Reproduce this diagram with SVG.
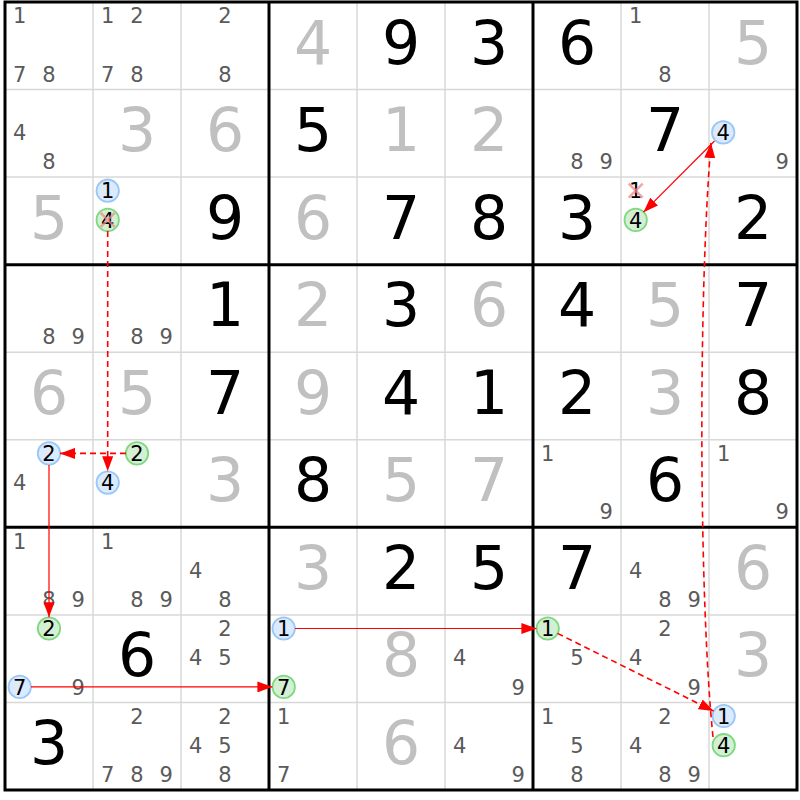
<svg xmlns="http://www.w3.org/2000/svg" width="800" height="800" viewBox="0 0 800 800">
<style>
text{font-family:"DejaVu Sans","Liberation Sans",sans-serif;text-anchor:middle}
.g{font-size:60px;fill:#000}
.s{font-size:60px;fill:#c0c0c0}
.c{font-size:21px;fill:#5a5a5a}
.k{font-size:21px;fill:#000}
.bc{fill:#dbeafc;stroke:#99c8f8;stroke-width:1.8}
.gc{fill:#d4f0d4;stroke:#80d880;stroke-width:1.8}
.x{stroke:#f08a8a;stroke-width:2.5;opacity:0.75}
.thin{stroke:#d8d8d8;stroke-width:1.5}
.thick{stroke:#000;stroke-width:3}
.ln{stroke:#ff0000;stroke-width:1.2;fill:none}
.dl{stroke:#ff0000;stroke-width:1.6;fill:none;stroke-dasharray:6,4}
</style>
<defs>
<marker id="ah" markerUnits="userSpaceOnUse" markerWidth="15" markerHeight="11" refX="15" refY="5.5" orient="auto">
<path d="M0,0 L15,5.5 L0,11 z" fill="#ff0000"/>
</marker>
</defs>
<rect width="800" height="800" fill="#fff"/>
<g id="grid">
<g class="thin">
<line x1="93" y1="2" x2="93" y2="790"/><line x1="181" y1="2" x2="181" y2="790"/>
<line x1="357" y1="2" x2="357" y2="790"/><line x1="445" y1="2" x2="445" y2="790"/>
<line x1="621" y1="2" x2="621" y2="790"/><line x1="709" y1="2" x2="709" y2="790"/>
<line x1="5" y1="89.6" x2="797" y2="89.6"/><line x1="5" y1="177.1" x2="797" y2="177.1"/>
<line x1="5" y1="352.2" x2="797" y2="352.2"/><line x1="5" y1="439.8" x2="797" y2="439.8"/>
<line x1="5" y1="614.9" x2="797" y2="614.9"/><line x1="5" y1="702.4" x2="797" y2="702.4"/>
</g>
<g class="thick">
<line x1="269" y1="2" x2="269" y2="790"/><line x1="533" y1="2" x2="533" y2="790"/>
<line x1="5" y1="264.7" x2="797" y2="264.7"/><line x1="5" y1="527.3" x2="797" y2="527.3"/>
<rect x="5" y="2" width="792" height="788" fill="none"/>
</g>
</g>
<g id="cells">
<g id="r1c1"><text class="c" x="19.7" y="23.2">1</text><text class="c" x="19.7" y="81.6">7</text><text class="c" x="49" y="81.6">8</text></g>
<g id="r1c2"><text class="c" x="107.7" y="23.2">1</text><text class="c" x="137" y="23.2">2</text><text class="c" x="107.7" y="81.6">7</text><text class="c" x="137" y="81.6">8</text></g>
<g id="r1c3"><text class="c" x="225" y="23.2">2</text><text class="c" x="225" y="81.6">8</text></g>
<g id="r1c4"><text class="s" x="313" y="63.5">4</text></g>
<g id="r1c5"><text class="g" x="401" y="63.5">9</text></g>
<g id="r1c6"><text class="g" x="489" y="63.5">3</text></g>
<g id="r1c7"><text class="g" x="577" y="63.5">6</text></g>
<g id="r1c8"><text class="c" x="635.7" y="23.2">1</text><text class="c" x="665" y="81.6">8</text></g>
<g id="r1c9"><text class="s" x="753" y="63.5">5</text></g>

<g id="r2c1"><text class="c" x="19.7" y="140">4</text><text class="c" x="49" y="169.2">8</text></g>
<g id="r2c2"><text class="s" x="137" y="151.1">3</text></g>
<g id="r2c3"><text class="s" x="225" y="151.1">6</text></g>
<g id="r2c4"><text class="g" x="313" y="151.1">5</text></g>
<g id="r2c5"><text class="s" x="401" y="151.1">1</text></g>
<g id="r2c6"><text class="s" x="489" y="151.1">2</text></g>
<g id="r2c7"><text class="c" x="577" y="169.2">8</text><text class="c" x="606.3" y="169.2">9</text></g>
<g id="r2c8"><text class="g" x="665" y="151.1">7</text></g>
<g id="r2c9"><circle class="bc" cx="723.2" cy="132.4" r="11.2"/><text class="k" x="723.2" y="140">4</text><text class="c" x="782.3" y="169.2">9</text></g>

<g id="r3c1"><text class="s" x="49" y="238.6">5</text></g>
<g id="r3c2"><circle class="bc" cx="107.7" cy="190.7" r="11.2"/><text class="k" x="107.7" y="198.3">1</text><circle class="gc" cx="107.7" cy="219.9" r="11.2"/><text class="k" x="107.7" y="227.5">4</text><path class="x" d="M100.7,212.9 L114.7,226.9 M114.7,212.9 L100.7,226.9"/></g>
<g id="r3c3"><text class="g" x="225" y="238.6">9</text></g>
<g id="r3c4"><text class="s" x="313" y="238.6">6</text></g>
<g id="r3c5"><text class="g" x="401" y="238.6">7</text></g>
<g id="r3c6"><text class="g" x="489" y="238.6">8</text></g>
<g id="r3c7"><text class="g" x="577" y="238.6">3</text></g>
<g id="r3c8"><text class="k" x="635.7" y="198.3">1</text><path class="x" d="M628.7,183.7 L642.7,197.7 M642.7,183.7 L628.7,197.7"/><circle class="gc" cx="635.7" cy="219.9" r="11.2"/><text class="k" x="635.7" y="227.5">4</text></g>
<g id="r3c9"><text class="g" x="753" y="238.6">2</text></g>

<g id="r4c1"><text class="c" x="49" y="344.3">8</text><text class="c" x="78.3" y="344.3">9</text></g>
<g id="r4c2"><text class="c" x="137" y="344.3">8</text><text class="c" x="166.3" y="344.3">9</text></g>
<g id="r4c3"><text class="g" x="225" y="326.2">1</text></g>
<g id="r4c4"><text class="s" x="313" y="326.2">2</text></g>
<g id="r4c5"><text class="g" x="401" y="326.2">3</text></g>
<g id="r4c6"><text class="s" x="489" y="326.2">6</text></g>
<g id="r4c7"><text class="g" x="577" y="326.2">4</text></g>
<g id="r4c8"><text class="s" x="665" y="326.2">5</text></g>
<g id="r4c9"><text class="g" x="753" y="326.2">7</text></g>

<g id="r5c1"><text class="s" x="49" y="413.7">6</text></g>
<g id="r5c2"><text class="s" x="137" y="413.7">5</text></g>
<g id="r5c3"><text class="g" x="225" y="413.7">7</text></g>
<g id="r5c4"><text class="s" x="313" y="413.7">9</text></g>
<g id="r5c5"><text class="g" x="401" y="413.7">4</text></g>
<g id="r5c6"><text class="g" x="489" y="413.7">1</text></g>
<g id="r5c7"><text class="g" x="577" y="413.7">2</text></g>
<g id="r5c8"><text class="s" x="665" y="413.7">3</text></g>
<g id="r5c9"><text class="g" x="753" y="413.7">8</text></g>

<g id="r6c1"><circle class="bc" cx="49" cy="453.4" r="11.2"/><text class="k" x="49" y="461">2</text><text class="c" x="19.7" y="490.2">4</text></g>
<g id="r6c2"><circle class="gc" cx="137" cy="453.4" r="11.2"/><text class="k" x="137" y="461">2</text><circle class="bc" cx="107.7" cy="482.6" r="11.2"/><text class="k" x="107.7" y="490.2">4</text></g>
<g id="r6c3"><text class="s" x="225" y="501.3">3</text></g>
<g id="r6c4"><text class="g" x="313" y="501.3">8</text></g>
<g id="r6c5"><text class="s" x="401" y="501.3">5</text></g>
<g id="r6c6"><text class="s" x="489" y="501.3">7</text></g>
<g id="r6c7"><text class="c" x="547.7" y="461">1</text><text class="c" x="606.3" y="519.4">9</text></g>
<g id="r6c8"><text class="g" x="665" y="501.3">6</text></g>
<g id="r6c9"><text class="c" x="723.7" y="461">1</text><text class="c" x="782.3" y="519.4">9</text></g>

<g id="r7c1"><text class="c" x="19.7" y="548.5">1</text><text class="c" x="49" y="606.9">8</text><text class="c" x="78.3" y="606.9">9</text></g>
<g id="r7c2"><text class="c" x="107.7" y="548.5">1</text><text class="c" x="137" y="606.9">8</text><text class="c" x="166.3" y="606.9">9</text></g>
<g id="r7c3"><text class="c" x="195.7" y="577.7">4</text><text class="c" x="225" y="606.9">8</text></g>
<g id="r7c4"><text class="s" x="313" y="588.8">3</text></g>
<g id="r7c5"><text class="g" x="401" y="588.8">2</text></g>
<g id="r7c6"><text class="g" x="489" y="588.8">5</text></g>
<g id="r7c7"><text class="g" x="577" y="588.8">7</text></g>
<g id="r7c8"><text class="c" x="635.7" y="577.7">4</text><text class="c" x="665" y="606.9">8</text><text class="c" x="694.3" y="606.9">9</text></g>
<g id="r7c9"><text class="s" x="753" y="588.8">6</text></g>

<g id="r8c1"><circle class="gc" cx="49" cy="628.5" r="11.2"/><text class="k" x="49" y="636.1">2</text><circle class="bc" cx="19.7" cy="686.9" r="11.2"/><text class="k" x="19.7" y="694.5">7</text><text class="c" x="78.3" y="694.5">9</text></g>
<g id="r8c2"><text class="g" x="137" y="676.4">6</text></g>
<g id="r8c3"><text class="c" x="225" y="636.1">2</text><text class="c" x="195.7" y="665.3">4</text><text class="c" x="225" y="665.3">5</text></g>
<g id="r8c4"><circle class="bc" cx="283.7" cy="628.5" r="11.2"/><text class="k" x="283.7" y="636.1">1</text><circle class="gc" cx="283.7" cy="686.9" r="11.2"/><text class="k" x="283.7" y="694.5">7</text></g>
<g id="r8c5"><text class="s" x="401" y="676.4">8</text></g>
<g id="r8c6"><text class="c" x="459.7" y="665.3">4</text><text class="c" x="518.3" y="694.5">9</text></g>
<g id="r8c7"><circle class="gc" cx="547.7" cy="628.5" r="11.2"/><text class="k" x="547.7" y="636.1">1</text><text class="c" x="577" y="665.3">5</text></g>
<g id="r8c8"><text class="c" x="665" y="636.1">2</text><text class="c" x="635.7" y="665.3">4</text><text class="c" x="694.3" y="694.5">9</text></g>
<g id="r8c9"><text class="s" x="753" y="676.4">3</text></g>

<g id="r9c1"><text class="g" x="49" y="763.9">3</text></g>
<g id="r9c2"><text class="c" x="137" y="723.6">2</text><text class="c" x="107.7" y="782">7</text><text class="c" x="137" y="782">8</text><text class="c" x="166.3" y="782">9</text></g>
<g id="r9c3"><text class="c" x="225" y="723.6">2</text><text class="c" x="195.7" y="752.8">4</text><text class="c" x="225" y="752.8">5</text><text class="c" x="225" y="782">8</text></g>
<g id="r9c4"><text class="c" x="283.7" y="723.6">1</text><text class="c" x="283.7" y="782">7</text></g>
<g id="r9c5"><text class="s" x="401" y="763.9">6</text></g>
<g id="r9c6"><text class="c" x="459.7" y="752.8">4</text><text class="c" x="518.3" y="782">9</text></g>
<g id="r9c7"><text class="c" x="547.7" y="723.6">1</text><text class="c" x="577" y="752.8">5</text><text class="c" x="577" y="782">8</text></g>
<g id="r9c8"><text class="c" x="665" y="723.6">2</text><text class="c" x="635.7" y="752.8">4</text><text class="c" x="665" y="782">8</text><text class="c" x="694.3" y="782">9</text></g>
<g id="r9c9"><circle class="bc" cx="723.7" cy="716" r="11.2"/><text class="k" x="723.7" y="723.6">1</text><circle class="gc" cx="723.7" cy="745.2" r="11.2"/><text class="k" x="723.7" y="752.8">4</text></g>
</g>
<g id="connectors">
<path class="dl" d="M107.7,231 L107.7,471.2" marker-end="url(#ah)"/>
<path class="dl" d="M126,453.4 L60,453.4" marker-end="url(#ah)"/>
<path class="ln" d="M49,465 L49,617.2" marker-end="url(#ah)"/>
<path class="ln" d="M31,686.9 L272.4,686.9" marker-end="url(#ah)"/>
<path class="ln" d="M295,628.5 L536.4,628.5" marker-end="url(#ah)"/>
<path class="dl" d="M557.5,633.4 L713.6,711.1" marker-end="url(#ah)"/>
<path class="dl" d="M713,737 C699,600 698,300 711,143" marker-end="url(#ah)"/>
<path class="ln" d="M714.5,141 L643.5,212.2" marker-end="url(#ah)"/>
</g>
</svg>
